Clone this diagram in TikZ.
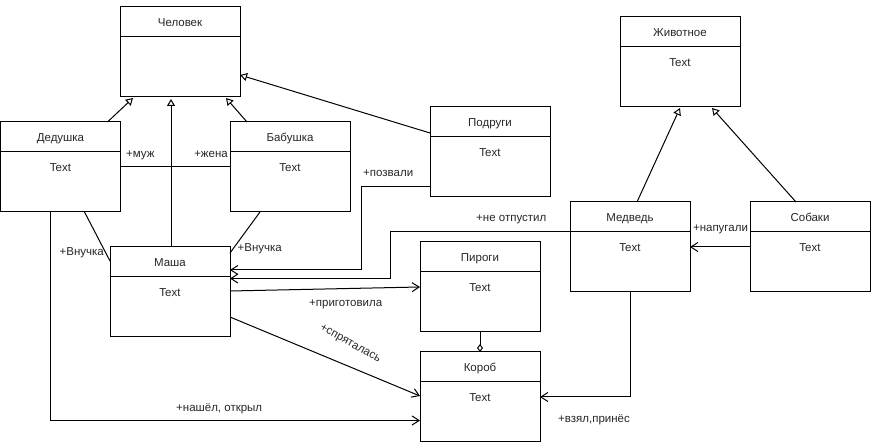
\documentclass[tikz,border=0pt]{standalone}
\usepackage{fontspec}
\setmainfont{Liberation Sans}
\usetikzlibrary{arrows.meta,calc}

\tikzset{
  classbox/.style={draw, line width=1pt, minimum width=120pt, minimum height=90pt,
    inner sep=0pt, outer sep=0pt, anchor=north west},
  lbl/.style={inner sep=0pt, text=black!85, font=\fontsize{11.5pt}{13pt}\selectfont},
  conn/.style={line width=1pt},
  inherit/.style={conn, -{Triangle[open, length=7pt, width=8pt]}},
  assoc/.style={conn, -{Straight Barb[length=7pt, width=9pt]}},
  aggr/.style={conn, -{Diamond[open, length=8pt, width=6pt]}},
}

% class box: name, x, y (top-left), title, body
\newcommand{\umlclass}[5]{%
  \node[classbox] (#1) at (#2,#3) {};
  \draw[line width=1pt] ($(#1.north west)+(0,30)$) -- ($(#1.north east)+(0,30)$);
  \node[lbl, anchor=base] (#1-title) at ($(#1.north)+(0,20)$) {#4};
  \node[lbl, anchor=base] (#1-body) at ($(#1.north)+(0,49.5)$) {#5};
}

\begin{document}
\begin{tikzpicture}[x=1pt, y=-1pt]
\useasboundingbox (0,0) rectangle (871,443);

\umlclass{chel}{120}{7}{Человек}{}
\umlclass{ded}{0.5}{122}{Дедушка}{Text}
\umlclass{bab}{230}{122}{Бабушка}{Text}
\umlclass{pod}{430}{107}{Подруги}{Text}
\umlclass{zhiv}{620}{17}{Животное}{Text}
\umlclass{masha}{110}{247}{Маша}{Text}
\umlclass{pir}{420}{242}{Пироги}{Text}
\umlclass{korob}{420}{352}{Короб}{Text}
\umlclass{med}{570}{202}{Медведь}{Text}
\umlclass{sob}{750}{202}{Собаки}{Text}

% generalisation
\draw[inherit] ($(ded.north west)+(107,0)$) -- ($(chel.south west)+(13,1)$);
\draw[inherit] ($(masha.north west)+(61,0)$) -- ($(chel.south west)+(51,2)$);
\draw[inherit] ($(bab.north west)+(17,0)$) -- ($(chel.south east)+(-14,1)$);
\draw[inherit] ($(pod.north west)+(0,26)$) -- ($(chel.south east)+(0,-22)$);
\draw[inherit] ($(med.north west)+(67,0)$) -- ($(zhiv.south west)+(60,1)$);
\draw[inherit] ($(sob.north west)+(46,0)$) -- ($(zhiv.south west)+(92,1)$);

% plain associations
\draw[conn] ($(ded.north east)+(0,45)$) -- ($(bab.north west)+(0,45)$);
\draw[conn] ($(ded.south west)+(84,0)$) -- ($(masha.north west)+(0,14)$);
\draw[conn] ($(bab.south west)+(30,0)$) -- ($(masha.north east)+(0,6)$);

% directed associations
\draw[assoc] ($(pod.north west)+(0,80)$) -- ++(-69,0) |- ($(masha.north east)+(0,23)$);
\draw[assoc] ($(med.north west)+(0,30)$) -- ++(-180,0) |- ($(masha.north east)+(0,31.5)$);
\draw[assoc] ($(masha.north east)+(0,44)$) -- ($(pir.north west)+(0,45)$);
\draw[assoc] ($(masha.north east)+(0,70)$) -- ($(korob.north west)+(0,44)$);
\draw[assoc] ($(ded.south west)+(49.5,0)$) |- ($(korob.north west)+(0,68.5)$);
\draw[assoc] ($(med.south west)+(60,0)$) |- ($(korob.north east)+(0,45)$);
\draw[assoc] ($(sob.north west)+(0,45)$) -- ($(med.north east)+(0,45)$);

% aggregation
\draw[aggr] (pir.south) -- (korob.north);

% role labels
\node[lbl, anchor=base west] (l-muzh) at (126,158) {+муж};
\node[lbl, anchor=base east] (l-zhena) at (228,158) {+жена};
\node[lbl, anchor=base east] (l-vn1) at (104,256) {+Внучка};
\node[lbl, anchor=base west] (l-vn2) at (237.5,252) {+Внучка};
\node[lbl, anchor=base west] (l-pozv) at (363,177) {+позвали};
\node[lbl, anchor=base east] (l-neotp) at (546.5,221.5) {+не отпустил};
\node[lbl, anchor=base west] (l-prig) at (309,307) {+приготовила};
\node[lbl, rotate=-29] (l-spr) at (350,344) {+спряталась};
\node[lbl, anchor=base west] (l-nash) at (176,412) {+нашёл, открыл};
\node[lbl, anchor=base west] (l-vzyal) at (558,422.5) {+взял,принёс};
\node[lbl, anchor=base] (l-nap) at (720.5,232) {+напугали};
\end{tikzpicture}
\end{document}
